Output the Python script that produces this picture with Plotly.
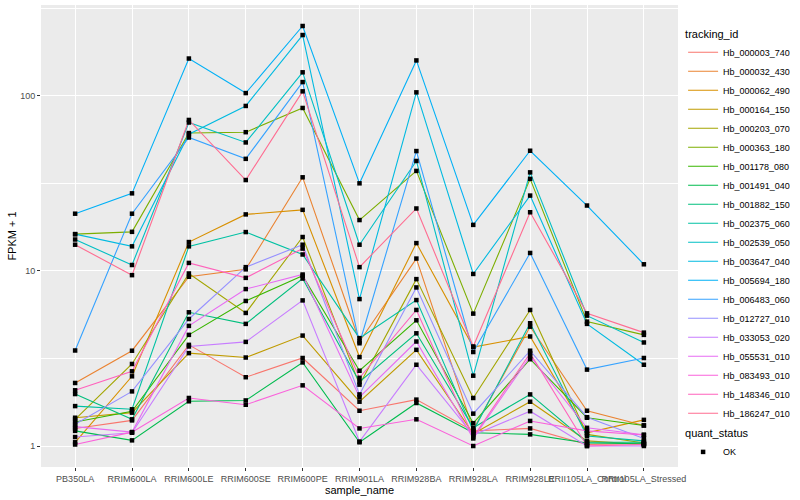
import math
import plotly.graph_objects as go

samples = ["PB350LA", "RRIM600LA", "RRIM600LE", "RRIM600SE", "RRIM600PE", "RRIM901LA",
           "RRIM928BA", "RRIM928LA", "RRIM928LE", "RRII105LA_Control", "RRII105LA_Stressed"]

tracking_ids = ["Hb_000003_740", "Hb_000032_430", "Hb_000062_490", "Hb_000164_150", "Hb_000203_070",
                "Hb_000363_180", "Hb_001178_080", "Hb_001491_040", "Hb_001882_150", "Hb_002375_060",
                "Hb_002539_050", "Hb_003647_040", "Hb_005694_180", "Hb_006483_060", "Hb_012727_010",
                "Hb_033053_020", "Hb_055531_010", "Hb_083493_010", "Hb_148346_010", "Hb_186247_010"]

colors = ["#F8766D", "#EA8331", "#D89000", "#C09B00", "#A3A500", "#7CAE00", "#39B600", "#00BB4E",
          "#00BF7D", "#00C1A3", "#00BFC4", "#00BAE0", "#00B0F6", "#35A2FF", "#9590FF", "#C77CFF",
          "#E76BF3", "#FA62DB", "#FF62BC", "#FF6C91"]

# FPKM + 1 per sample
hb_000003_740 = [1.26, 1.40, 3.78, 2.47, 3.18, 1.59, 1.84, 1.22, 1.26, 1.02, 1.03]
hb_000032_430 = [2.29, 3.50, 9.25, 10.2, 34.2, 3.95, 11.75, 1.24, 4.80, 1.59, 1.31]
hb_000062_490 = [1.05, 2.50, 14.6, 21.0, 22.3, 3.22, 14.4, 3.67, 4.22, 1.19, 1.41]
hb_000164_150 = [1.45, 1.55, 3.39, 3.20, 4.27, 1.79, 3.54, 1.175, 1.79, 1.07, 1.02]
hb_000203_070 = [1.42, 2.94, 9.66, 5.75, 15.6, 2.24, 8.97, 1.88, 5.98, 1.165, 1.04]
hb_000363_180 = [16.2, 16.7, 61.2, 61.9, 85.1, 19.5, 37.2, 5.7, 33.5, 5.13, 4.31]
hb_001178_080 = [1.37, 1.58, 4.31, 6.73, 9.37, 2.69, 5.22, 1.35, 3.13, 1.45, 1.31]
hb_001491_040 = [1.22, 1.077, 1.80, 1.82, 3.00, 1.05, 1.76, 1.19, 1.165, 1.04, 1.03]
hb_001882_150 = [1.98, 1.42, 5.80, 4.98, 9.04, 2.32, 4.40, 1.27, 1.97, 1.05, 1.05]
hb_002375_060 = [1.69, 1.62, 13.8, 16.65, 12.4, 4.13, 6.81, 1.22, 5.02, 1.14, 1.07]
hb_002539_050 = [15.1, 10.8, 70.3, 54.1, 136, 14.1, 42.4, 2.52, 36.5, 5.55, 3.9]
hb_003647_040 = [16.2, 13.8, 60.3, 87.4, 222, 6.9, 104.5, 9.6, 26.9, 4.98, 2.91]
hb_005694_180 = [21.2, 27.7, 163, 103.5, 250, 31.6, 159, 18.3, 48.5, 23.6, 10.9]
hb_006483_060 = [3.51, 21.2, 57.7, 43.6, 119.6, 3.86, 48.3, 3.44, 12.65, 2.73, 3.18]
hb_012727_010 = [1.33, 2.05, 5.31, 10.5, 14.1, 1.97, 8.04, 1.53, 3.50, 1.46, 1.105]
hb_033053_020 = [1.125, 1.19, 3.70, 3.93, 6.78, 1.06, 2.91, 1.155, 1.58, 1.0, 1.0]
hb_055531_010 = [1.29, 1.20, 4.85, 7.87, 9.53, 1.90, 3.95, 1.105, 3.25, 1.27, 1.16]
hb_083493_010 = [1.02, 1.20, 1.88, 1.72, 2.22, 1.26, 1.42, 1.0, 1.39, 1.22, 1.155]
hb_148346_010 = [2.08, 2.67, 11.1, 9.12, 13.4, 2.45, 5.98, 1.125, 3.39, 1.0, 1.02]
hb_186247_010 = [14.1, 9.45, 72.7, 33.0, 105.9, 10.5, 22.7, 3.7, 21.6, 5.72, 4.44]

series = [hb_000003_740, hb_000032_430, hb_000062_490, hb_000164_150, hb_000203_070,
          hb_000363_180, hb_001178_080, hb_001491_040, hb_001882_150, hb_002375_060,
          hb_002539_050, hb_003647_040, hb_005694_180, hb_006483_060, hb_012727_010,
          hb_033053_020, hb_055531_010, hb_083493_010, hb_148346_010, hb_186247_010]

y_ticks = [1, 10, 100]
y_minor = [10 ** 0.5, 10 ** 1.5, 10 ** 2.5]

FONT = "Liberation Sans, Arial, Helvetica, sans-serif"

fig = go.Figure()
for tid, col, vals in zip(tracking_ids, colors, series):
    fig.add_trace(go.Scatter(x=samples, y=vals, mode="lines", name=tid,
                             line=dict(color=col, width=1.1), legend="legend",
                             hoverinfo="skip"))

all_x = [s for vals in series for s in samples]
all_y = [v for vals in series for v in vals]
fig.add_trace(go.Scatter(x=all_x, y=all_y, mode="markers", name="OK",
                         marker=dict(symbol="square", size=4.5, color="black"),
                         legend="legend2"))

lo = math.log10(min(all_y))
hi = math.log10(max(all_y))
pad = 0.05 * (hi - lo)

fig.update_layout(
    width=800, height=500,
    margin=dict(l=41, r=116, t=5, b=33),
    paper_bgcolor="white",
    plot_bgcolor="#EBEBEB",
    font=dict(family=FONT, size=9, color="#4D4D4D"),
    xaxis=dict(
        type="category", range=[-0.6, len(samples) - 0.4],
        showgrid=True, gridcolor="white", gridwidth=1.1,
        zeroline=False, showline=False,
        ticks="outside", ticklen=3, tickwidth=1, tickcolor="#333333",
        tickangle=0, tickfont=dict(size=9, color="#4D4D4D", family=FONT),
        title=dict(text="sample_name", font=dict(size=11, color="black", family=FONT), standoff=3),
        automargin=False,
    ),
    yaxis=dict(
        type="log", range=[lo - pad, hi + pad],
        tickvals=y_ticks, ticktext=[str(t) for t in y_ticks],
        showgrid=True, gridcolor="white", gridwidth=1.1,
        minor=dict(tickvals=y_minor, showgrid=True, gridcolor="white", gridwidth=0.55, ticks=""),
        zeroline=False, showline=False,
        ticks="outside", ticklen=3, tickwidth=1, tickcolor="#333333",
        tickfont=dict(size=9, color="#4D4D4D", family=FONT),
        title=dict(text="FPKM + 1", font=dict(size=11, color="black", family=FONT), standoff=1),
        automargin=False,
    ),
    legend=dict(
        title=dict(text="tracking_id", font=dict(size=11, color="black", family=FONT)),
        font=dict(size=9, color="black", family=FONT),
        x=1.008, xanchor="left", y=0.96, yanchor="top",
        bgcolor="rgba(0,0,0,0)", itemwidth=30, tracegroupgap=0,
    ),
    legend2=dict(
        title=dict(text="quant_status", font=dict(size=11, color="black", family=FONT)),
        font=dict(size=9, color="black", family=FONT),
        x=1.008, xanchor="left", y=0.095, yanchor="top",
        bgcolor="rgba(0,0,0,0)", itemwidth=30,
    ),
    showlegend=True,
)

fig.write_html("out.html", config={"displayModeBar": False},
               post_script="document.body.style.margin='0';")
